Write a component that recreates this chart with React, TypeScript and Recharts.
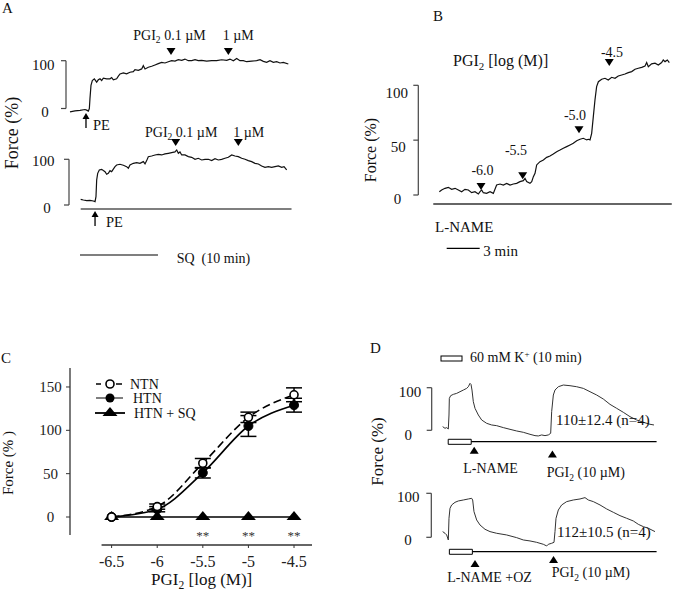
import React from 'react';
import {
  LineChart, Line, XAxis, YAxis, ReferenceLine, ReferenceDot, ReferenceArea,
  ErrorBar, Legend, LabelList,
} from 'recharts';

const FONT = '"Liberation Serif", "Times New Roman", serif';

// ---------- panel A : force (%) vs time (min) ----------
const traceAControl: [number, number][] = [
  [0, -6.9], [0.64, -4.8], [1.28, -4.1], [1.92, -2.1], [2.14, -3.4], [2.35, -5.5], [2.48, 0],
  [2.56, 20.7], [2.69, 48.3], [2.86, 58.6], [3.12, 62.1], [3.42, 55.2], [3.63, 60], [3.85, 62.1],
  [4.06, 58.6], [4.27, 63.4], [4.7, 62.1], [5.13, 62.1], [5.34, 64.8], [5.56, 60], [5.98, 62.1],
  [6.2, 67.6], [6.41, 72.4], [6.84, 74.5], [7.26, 72.4], [7.69, 75.9], [8.12, 77.2], [8.33, 81.4],
  [8.76, 80], [9.19, 82.8], [9.4, 89.7], [9.62, 82.8], [10.04, 86.2], [10.47, 88.3], [10.9, 91],
  [11.32, 93.8], [11.75, 96.6], [12.18, 95.2], [12.61, 97.9], [13.03, 100], [13.46, 99.3],
  [13.89, 102], [14.32, 100.7], [14.74, 103.4], [15.17, 100], [15.6, 100], [16.03, 102], [16.45, 100],
  [16.88, 100.7], [17.52, 99.3], [18.16, 100], [18.8, 100], [19.44, 102], [20.09, 100.7],
  [20.51, 103.4], [20.94, 100], [21.37, 104.8], [21.79, 100], [22.22, 100], [22.65, 97.9],
  [23.29, 99.3], [23.93, 100], [24.36, 102], [24.79, 98.6], [25.21, 96.6], [25.64, 100],
  [26.07, 96.6], [26.5, 97.9], [26.92, 95.2], [27.35, 96.6], [27.99, 93.1],
];
const traceASQ: [number, number][] = [
  [1.37, 12.4], [1.71, 10.9], [2.14, 9.5], [2.56, 10.2], [2.99, 8.8], [3.21, 7.3], [3.33, 18.2],
  [3.42, 54.7], [3.55, 69.3], [3.76, 76.6], [4.06, 78.1], [4.49, 73], [4.7, 67.2], [4.91, 69.3],
  [5.13, 75.2], [5.34, 73], [5.77, 83.9], [5.98, 87.6], [6.41, 89.1], [6.84, 86.9], [7.26, 83.9],
  [7.48, 80.3], [7.69, 87.6], [8.12, 91.2], [8.55, 92.7], [8.97, 91.2], [9.4, 94.9], [9.62, 89.8],
  [9.83, 97.1], [10.04, 105.8], [10.47, 107.3], [10.9, 109.5], [11.32, 110.9], [11.75, 109.5],
  [12.18, 111.7], [12.61, 113.1], [13.03, 114.6], [13.46, 116.1], [13.68, 120.4], [13.89, 113.1],
  [14.1, 116.1], [14.32, 109.5], [14.74, 109.5], [15.17, 105.8], [15.6, 104.4], [16.03, 100],
  [16.45, 102.2], [16.88, 98.5], [17.31, 100], [17.74, 100], [18.16, 97.1], [18.59, 101.5],
  [19.02, 98.5], [19.44, 100], [19.87, 102.2], [20.3, 104.4], [20.73, 109.5], [21.15, 107.3],
  [21.58, 105.8], [22.01, 102.2], [22.44, 100], [22.86, 97.1], [23.29, 94.9], [23.72, 91.2],
  [24.15, 89.8], [24.57, 85.4], [25.0, 82.5], [25.43, 83.9], [25.85, 82.5], [26.28, 83.9],
  [26.71, 85.4], [27.14, 82.5], [27.44, 83.9], [27.78, 76.6],
];

// ---------- panel B : cumulative PGI2 after L-NAME ----------
const traceB: [number, number][] = [
  [0.12, 3], [0.33, 4.6], [0.64, 6.1], [0.94, 7], [1.24, 5.2], [1.55, 6.1], [1.85, 4.6], [2.15, 3],
  [2.45, 5.2], [2.76, 4.6], [3.06, 2.1], [3.36, 3], [3.67, 0.9], [3.82, 3], [3.97, 4.6], [4.12, 2.1],
  [4.42, 1.5], [4.73, 3], [5.03, 1.5], [5.33, 9.1], [5.64, 10], [5.94, 9.1], [6.24, 10.6], [6.55, 9.1],
  [6.85, 10], [7.15, 10.6], [7.45, 12.2], [7.76, 13.1], [7.91, 15.2], [8.06, 12.2], [8.36, 10.6],
  [8.52, 12.2], [8.67, 16.7], [8.82, 19.8], [8.97, 27.4], [9.27, 30.4], [9.58, 31.9], [9.88, 34.3],
  [10.18, 35.6], [10.48, 37.4], [10.79, 39.5], [11.09, 41], [11.39, 42.6], [11.7, 44.1], [12, 45.6],
  [12.3, 47.1], [12.61, 49.5], [12.91, 50.8], [13.21, 51.7], [13.52, 50.2], [13.67, 50.8],
  [13.82, 50.2], [13.97, 56.2], [14.12, 71.4], [14.27, 86.6], [14.42, 98.8], [14.58, 103.3],
  [14.88, 105.5], [15.18, 106.4], [15.48, 104.9], [15.79, 107.3], [16.09, 106.4], [16.39, 108.5],
  [16.7, 109.4], [17, 110.3], [17.3, 111.6], [17.61, 112.5], [17.91, 114.6], [18.21, 115.5],
  [18.52, 116.4], [18.82, 117.6], [18.97, 120.7], [19.12, 117], [19.42, 119.5], [19.73, 120.1],
  [20.03, 118.5], [20.33, 120.7], [20.48, 123.1], [20.64, 121.6], [20.85, 123.1], [21.03, 120.7],
];
const doseStepsB = ['-6.0', '-5.5', '-5.0', '-4.5'];
const doseTimesB = [3.91, 7.7, 12.82, 15.57];
const doseLevelsB = [4.6, 14.3, 56.2, 117.6];

// ---------- panel C : concentration-response ----------
const doses = [-6.5, -6, -5.5, -5, -4.5];
const ntnMean = [0, 12, 62, 115, 141];
const ntnErr = [0, 3, 5.5, 6, 8];
const htnMean = [0, 9, 51, 105, 129];
const htnErr = [0, 3, 6, 12, 8];
const htnSqMean = [0, 0, 0, 0, 0];
const sigMarks = ['', '', '**', '**', '**'];
const yTicksC = [0, 50, 100, 150];
const seriesNames = ['NTN', 'HTN', 'HTN + SQ'];

// ---------- panel D : K+ / L-NAME / PGI2 ----------
const traceDLName: [number, number][] = [
  [0.29, 8.6], [1.3, 4.7], [2.03, 6.3], [2.75, 3.1], [3.04, 35.9], [3.19, 75], [3.77, 81.3],
  [4.93, 84.4], [6.38, 86.7], [7.83, 90.6], [9.28, 94.5], [10.72, 98.4], [11.45, 102.3],
  [12.17, 110.2], [12.61, 107.8], [13.04, 94.5], [13.62, 67.2], [14.35, 51.6], [15.8, 35.9],
  [17.25, 24.2], [19.42, 16.4], [21.59, 12.5], [23.77, 10.9], [26.67, 6.3], [29.57, 2.3],
  [32.46, -1.6], [35.36, -4.7], [38.26, -9.4], [40.43, -12.5], [41.88, -13.3], [43.33, -10.9],
  [44.78, -12.5], [46.23, -10.9], [47.25, -7], [47.68, 43.8], [48.41, 82.8], [49.13, 94.5],
  [50.58, 102.3], [52.75, 106.3], [55.65, 104.7], [58.55, 102.3], [61.45, 98.4], [64.35, 90.6],
  [67.25, 82.8], [70.14, 73.4], [73.04, 60.9], [75.94, 51.6], [78.84, 42.2], [81.74, 32],
  [84.64, 24.2], [87.54, 18.8], [90.43, 14.1], [92.17, 12.5],
];
const traceDLNameOZ: [number, number][] = [
  [0.29, 12.9], [1.3, 9.1], [2.03, 5.3], [2.75, -6.1], [3.04, 43.2], [3.48, 65.9], [4.2, 73.5],
  [5.65, 79.5], [7.1, 82.6], [9.28, 84.8], [11.45, 87.1], [12.9, 88.6], [13.33, 84.8], [13.91, 58.3],
  [15.07, 39.4], [16.52, 28], [18.7, 18.2], [20.87, 12.9], [23.77, 9.1], [28.12, 5.3], [32.46, -0.8],
  [35.36, -6.1], [38.26, -8.3], [41.16, -11.4], [44.06, -15.9], [45.51, -19.7], [46.23, -15.9],
  [47.68, -13.6], [48.7, -11.4], [49.13, 12.9], [49.57, 43.2], [50.58, 62.1], [52.03, 73.5],
  [54.2, 81.1], [57.1, 84.8], [60, 87.1], [62.17, 90.2], [63.62, 84.8], [65.8, 81.1], [68.7, 73.5],
  [71.59, 64.4], [74.49, 56.8], [77.39, 49.2], [80.29, 43.2], [83.19, 37.1], [85.36, 29.5],
  [87.54, 24.2], [89.71, 20.5], [92.61, 12.9],
];

type Pt = [number, number];
interface Frame {
  left: number; top: number; width: number; height: number;
  x0: number; ppm: number; y0: number; y100: number; bx: number; ticks: number[];
}
interface Mark { t: number; v: number; kind: 'down' | 'up' | 'pe' }
interface Seg { t1: number; t2: number; v: number; color?: string; w?: number }
interface Box { t1: number; t2: number; v1: number; v2: number }

function Marker(props: any) {
  const { cx, cy, kind } = props;
  if (cx == null || cy == null) return null;
  if (kind === 'down')
    return <polygon points={`${cx - 4.5},${cy - 7} ${cx + 4.5},${cy - 7} ${cx},${cy}`} fill="#000" />;
  if (kind === 'up')
    return <polygon points={`${cx - 4.5},${cy + 7} ${cx + 4.5},${cy + 7} ${cx},${cy}`} fill="#000" />;
  return (
    <g>
      <polygon points={`${cx - 3.5},${cy + 6} ${cx + 3.5},${cy + 6} ${cx},${cy}`} fill="#000" />
      <line x1={cx} y1={cy + 5} x2={cx} y2={cy + 15} stroke="#000" strokeWidth={1.3} />
    </g>
  );
}

function TraceChart({ f, data, color, lw, marks = [], segs = [], boxes = [] }: {
  f: Frame; data: Pt[]; color: string; lw: number; marks?: Mark[]; segs?: Seg[]; boxes?: Box[];
}) {
  const s = (f.y0 - f.y100) / 100;
  const xd = [(f.left - f.x0) / f.ppm, (f.left + f.width - f.x0) / f.ppm];
  const yd = [(f.y0 - f.top - f.height) / s, (f.y0 - f.top) / s];
  const tb = (f.bx - f.x0) / f.ppm;
  const tl = 5 / f.ppm;
  const rows = data.map(([t, v]) => ({ t, v }));
  return (
    <div style={{ position: 'absolute', left: f.left, top: f.top }}>
      <LineChart width={f.width} height={f.height} data={rows} margin={{ top: 0, right: 0, bottom: 0, left: 0 }}>
        <XAxis type="number" dataKey="t" domain={xd} hide allowDataOverflow />
        <YAxis type="number" domain={yd} hide allowDataOverflow />
        <ReferenceLine segment={[{ x: tb, y: 0 }, { x: tb, y: 100 }]} stroke="#444" strokeWidth={1.2} ifOverflow="visible" />
        {f.ticks.map((v) => (
          <ReferenceLine key={v} segment={[{ x: tb - tl, y: v }, { x: tb, y: v }]} stroke="#444" strokeWidth={1.2} ifOverflow="visible" />
        ))}
        {segs.map((g, i) => (
          <ReferenceLine key={'s' + i} segment={[{ x: g.t1, y: g.v }, { x: g.t2, y: g.v }]}
            stroke={g.color ?? '#000'} strokeWidth={g.w ?? 1.2} ifOverflow="visible" />
        ))}
        {boxes.map((b, i) => (
          <ReferenceArea key={'b' + i} x1={b.t1} x2={b.t2} y1={b.v1} y2={b.v2}
            fill="#fff" fillOpacity={1} stroke="#000" strokeWidth={1} ifOverflow="visible" />
        ))}
        <Line dataKey="v" type="linear" stroke={color} strokeWidth={lw} dot={false} activeDot={false} isAnimationActive={false} />
        {marks.map((m, i) => (
          <ReferenceDot key={'m' + i} x={m.t} y={m.v} r={0} ifOverflow="visible"
            shape={(p: any) => <Marker {...p} kind={m.kind} />} />
        ))}
      </LineChart>
    </div>
  );
}

// frames: page position, time origin, px per minute, px of 0 % and 100 %
const fA1: Frame = { left: 50, top: 40, width: 250, height: 95, x0: 70, ppm: 7.8, y0: 108.5, y100: 60.7, bx: 66, ticks: [0, 100] };
const fA2: Frame = { left: 50, top: 135, width: 250, height: 130, x0: 70, ppm: 7.8, y0: 205, y100: 159.3, bx: 69, ticks: [0, 100] };
const fB: Frame = { left: 400, top: 45, width: 273, height: 215, x0: 438, ppm: 11, y0: 195, y100: 85.3, bx: 418.3, ticks: [0, 50, 100] };
const fD1: Frame = { left: 420, top: 380, width: 253, height: 80, x0: 442, ppm: 2.3, y0: 430.3, y100: 387.7, bx: 431.7, ticks: [0, 100] };
const fD2: Frame = { left: 420, top: 485, width: 253, height: 85, x0: 442, ppm: 2.3, y0: 537.3, y100: 493.3, bx: 431.3, ticks: [0, 100] };

const OpenDot = (p: any) => (p.cx == null ? null :
  <circle cx={p.cx} cy={p.cy} r={4} fill="#fff" stroke="#000" strokeWidth={1.6} />);
const FillDot = (p: any) => (p.cx == null ? null :
  <circle cx={p.cx} cy={p.cy} r={4.5} fill="#000" stroke="#000" strokeWidth={1} />);
const TriDot = (p: any) => (p.cx == null ? null :
  <polygon points={`${p.cx},${p.cy - 6} ${p.cx + 7.5},${p.cy + 3} ${p.cx - 7.5},${p.cy + 3}`} fill="#000" />);

const XTick = (p: any) => (
  <text x={p.x} y={p.y + 19} textAnchor="middle" fontSize={16} fontFamily={FONT} fill="#222">{p.payload.value}</text>
);
const YTick = (p: any) => (
  <text x={p.x - 15.5} y={p.y + 5} textAnchor="middle" fontSize={15} fontFamily={FONT} fill="#222">{p.payload.value}</text>
);
const Stars = (p: any) => (p.value ? (
  <text x={p.x} y={p.y + 23} textAnchor="middle" fontSize={13} fontFamily={FONT} fill="#333">{p.value}</text>
) : null);

const CLegend = () => (
  <svg width={130} height={50} style={{ display: 'block', overflow: 'visible' }}>
    <line x1={8} y1={10} x2={13} y2={10} stroke="#000" strokeWidth={1.5} />
    <line x1={28} y1={10} x2={34} y2={10} stroke="#000" strokeWidth={1.5} />
    <circle cx={22} cy={10} r={4} fill="#fff" stroke="#000" strokeWidth={1.6} />
    <text x={42} y={14.5} fontSize={14} fontFamily={FONT} fill="#111">{seriesNames[0]}</text>
    <line x1={8} y1={24} x2={35} y2={24} stroke="#555" strokeWidth={1.5} />
    <circle cx={22} cy={24} r={4.5} fill="#000" />
    <text x={45} y={28.5} fontSize={14} fontFamily={FONT} fill="#111">{seriesNames[1]}</text>
    <line x1={7} y1={39} x2={37} y2={39} stroke="#000" strokeWidth={1.8} />
    <polygon points="22,33 29.5,42 14.5,42" fill="#000" />
    <text x={46} y={43.5} fontSize={14} fontFamily={FONT} fill="#111">{seriesNames[2]}</text>
  </svg>
);

function T({ x, y, s = 14, a = 'start', rot = false, children }: any) {
  return (
    <text x={x} y={y} fontSize={s} textAnchor={a} fontFamily={FONT} fill="#111"
      style={{ whiteSpace: 'pre' }}
      dominantBaseline={rot ? 'central' : undefined}
      transform={rot ? `rotate(-90 ${x} ${y})` : undefined}>
      {children}
    </text>
  );
}
const pgi = (s: number, rest: string) => (
  <>PGI<tspan dy={s * 0.25} fontSize={s * 0.68}>2</tspan><tspan dy={-s * 0.25}>{rest}</tspan></>
);

export default function App() {
  const rowsC = doses.map((x, i) => ({
    x, ntn: ntnMean[i], ntnE: ntnErr[i], htn: htnMean[i], htnE: htnErr[i], sq: htnSqMean[i], sig: sigMarks[i],
  }));
  const cx = [-6.956, -4.303];
  const cy = [-32.3, 171.9];

  return (
    <div style={{ position: 'absolute', left: 0, top: 0, width: 673, height: 595, background: '#fff', overflow: 'hidden' }}>
      <TraceChart f={fA1} data={traceAControl} color="#111" lw={1.2}
        marks={[{ t: 12.95, v: 111.9, kind: 'down' }, { t: 20.3, v: 111.9, kind: 'down' }, { t: 2.05, v: -9.4, kind: 'pe' }]} />
      <TraceChart f={fA2} data={traceASQ} color="#111" lw={1.2}
        marks={[{ t: 13.55, v: 129, kind: 'down' }, { t: 21.58, v: 129, kind: 'down' }, { t: 3.21, v: -13.1, kind: 'pe' }]}
        segs={[{ t1: 1.37, t2: 28.4, v: -8.8 }, { t1: 1.28, t2: 11.28, v: -109.4 }]} />
      <TraceChart f={fB} data={traceB} color="#111" lw={1.2}
        marks={doseTimesB.map((t, i) => ({ t, v: doseLevelsB[i], kind: 'down' as const }))}
        segs={[{ t1: -0.43, t2: 21.25, v: -8.2, color: '#666', w: 2 }, { t1: 0.79, t2: 3.79, v: -48.6 }]} />
      <TraceChart f={fD1} data={traceDLName} color="#333" lw={1}
        marks={[{ t: 14.0, v: -38.5, kind: 'up' }, { t: 48.0, v: -47.4, kind: 'up' }]}
        segs={[{ t1: 12.7, t2: 93.3, v: -26.8 }]} boxes={[{ t1: 2.7, t2: 12.7, v1: -21.1, v2: -32.9 }]} />
      <TraceChart f={fD2} data={traceDLNameOZ} color="#333" lw={1}
        marks={[{ t: 14.35, v: -51.6, kind: 'up' }, { t: 48.5, v: -42.5, kind: 'up' }]}
        segs={[{ t1: 13.2, t2: 93.3, v: -32.7 }]} boxes={[{ t1: 3.2, t2: 13.2, v1: -27.3, v2: -38.6 }]} />

      <div style={{ position: 'absolute', left: 0, top: 340 }}>
        <LineChart width={340} height={255} data={rowsC} margin={{ top: 28, right: 28, bottom: 20, left: 30 }}>
          <XAxis type="number" dataKey="x" domain={cx} allowDataOverflow ticks={doses} interval={0}
            axisLine={false} tickSize={3} tickMargin={0} tickLine={{ stroke: '#333' }} height={30} tick={XTick} />
          <YAxis type="number" domain={cy} allowDataOverflow ticks={yTicksC} interval={0}
            axisLine={false} tickSize={4} tickMargin={0} tickLine={{ stroke: '#333' }} width={40} tick={YTick} />
          <ReferenceLine segment={[{ x: cx[0], y: -20.8 }, { x: cx[0], y: cy[1] }]} stroke="#333" strokeWidth={1.3} ifOverflow="visible" />
          <ReferenceLine segment={[{ x: -6.61, y: cy[0] }, { x: cx[1], y: cy[0] }]} stroke="#333" strokeWidth={1.3} ifOverflow="visible" />
          <Line dataKey="sq" type="linear" stroke="#000" strokeWidth={1.6} dot={<TriDot />} activeDot={false} isAnimationActive={false}>
            <LabelList dataKey="sig" content={Stars} />
          </Line>
          <Line dataKey="htn" type="monotone" stroke="#000" strokeWidth={1.6} dot={<FillDot />} activeDot={false} isAnimationActive={false}>
            <ErrorBar dataKey="htnE" width={8} stroke="#000" strokeWidth={1.5} direction="y" />
          </Line>
          <Line dataKey="ntn" type="monotone" stroke="#000" strokeWidth={1.6} strokeDasharray="8 4" dot={<OpenDot />} activeDot={false} isAnimationActive={false}>
            <ErrorBar dataKey="ntnE" width={8} stroke="#000" strokeWidth={1.5} direction="y" />
          </Line>
          <Legend content={<CLegend />} layout="horizontal" verticalAlign="middle" align="center"
            wrapperStyle={{ left: 88, top: 34, width: 130, height: 50 }} />
        </LineChart>
      </div>

      <svg width={673} height={595} style={{ position: 'absolute', left: 0, top: 0, pointerEvents: 'none' }}>
        {/* A */}
        <T x={2} y={13} s={15}>A</T>
        <T x={12} y={133} s={18} a="middle" rot>Force (%)</T>
        <T x={43.3} y={69.7} s={15} a="middle">100</T>
        <T x={45} y={117} s={15} a="middle">0</T>
        <T x={43.3} y={166} s={15} a="middle">100</T>
        <T x={47} y={213} s={15} a="middle">0</T>
        <T x={133.3} y={39.5}>{pgi(14, ' 0.1 µM')}</T>
        <T x={222.7} y={39.5}>1 µM</T>
        <T x={93} y={130} s={14.5}>PE</T>
        <T x={145} y={136.5}>{pgi(14, ' 0.1 µM')}</T>
        <T x={233.3} y={136.5}>1 µM</T>
        <T x={106} y={227} s={14.5}>PE</T>
        <T x={176.7} y={262.5}>SQ  (10 min)</T>
        {/* B */}
        <T x={433} y={21} s={15}>B</T>
        <T x={370} y={150} s={16} a="middle" rot>Force (%)</T>
        <T x={396.7} y={98.3} s={15} a="middle">100</T>
        <T x={398.3} y={151.7} s={15} a="middle">50</T>
        <T x={397.5} y={203.7} s={15} a="middle">0</T>
        <T x={453} y={66} s={16}>{pgi(16, ' [log (M)]')}</T>
        <T x={482.5} y={175} a="middle">{doseStepsB[0]}</T>
        <T x={516} y={155} a="middle">{doseStepsB[1]}</T>
        <T x={575} y={120} a="middle">{doseStepsB[2]}</T>
        <T x={612} y={56.5} a="middle">{doseStepsB[3]}</T>
        <T x={435} y={232} s={15}>L-NAME</T>
        <T x={483.3} y={255.5} s={15}>3 min</T>
        {/* C */}
        <T x={1} y={363} s={15}>C</T>
        <T x={8} y={463} s={15} a="middle" rot>Force (% )</T>
        <T x={201.7} y={585} s={17} a="middle">{pgi(17, ' [log (M)]')}</T>
        {/* D */}
        <T x={370} y={353} s={15}>D</T>
        <rect x={441} y={356} width={21} height={5} fill="#fff" stroke="#000" strokeWidth={1} />
        <T x={470} y={362}>60 mM K<tspan dy={-5} fontSize={9}>+</tspan><tspan dy={5}> (10 min)</tspan></T>
        <T x={377} y={451.5} s={17} a="middle" rot>Force (%)</T>
        <T x={410} y={397} s={15} a="middle">100</T>
        <T x={408.3} y={440} s={15} a="middle">0</T>
        <T x={408.3} y={501.7} s={15} a="middle">100</T>
        <T x={408} y={545} s={15} a="middle">0</T>
        <T x={556} y={425} s={15}>110±12.4 (n=4)</T>
        <T x={557} y={536.5} s={15}>112±10.5 (n=4)</T>
        <T x={463.3} y={473}>L-NAME</T>
        <T x={546.7} y={477}>{pgi(14, ' (10 µM)')}</T>
        <T x={447.3} y={582}>L-NAME +OZ</T>
        <T x={551.7} y={577}>{pgi(14, ' (10 µM)')}</T>
      </svg>
    </div>
  );
}
